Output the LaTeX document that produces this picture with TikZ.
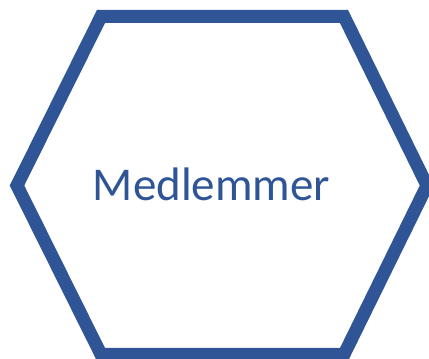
\documentclass[tikz,border=0pt]{standalone}
\usepackage{fontspec}
\setmainfont{Carlito}
\definecolor{medblue}{HTML}{2F5597}
\begin{document}
\begin{tikzpicture}[x=1pt, y=1pt]
	% Rammen for billedet
	\useasboundingbox (0,0) rectangle (429,359);
	\clip (0,0) rectangle (429,359);
	% Hjørnerne i sekskanten
	\coordinate (L) at (17,173.5);
	\coordinate (TL) at (101,342.5);
	\coordinate (TR) at (344,342.5);
	\coordinate (R) at (427,173.5);
	\coordinate (BR) at (344,4.5);
	\coordinate (BL) at (101,4.5);
	
	% Sekskanten
	\draw[line width=13pt, medblue, line join=miter] (L) -- (TL) -- (TR) -- (R) -- (BR) -- (BL) -- cycle;
	
	% Teksten i midten
	\node[text=medblue, font=\fontsize{47}{51}\selectfont] (medlemmer) at (211.5,175) {Medlemmer};
\end{tikzpicture}
\end{document}
